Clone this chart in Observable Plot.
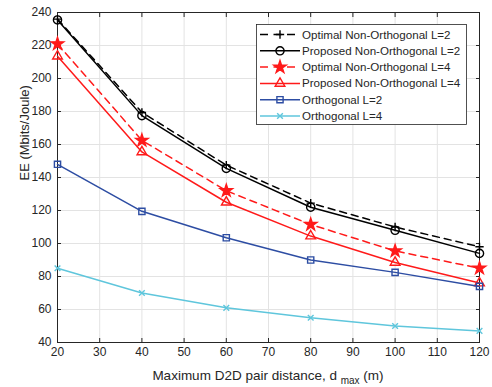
<!DOCTYPE html>
<html>
<head>
<meta charset="utf-8">
<script src="https://cdn.jsdelivr.net/npm/d3@7"></script>
<script src="https://cdn.jsdelivr.net/npm/@observablehq/plot@0.6"></script>
<style>
  html, body { margin: 0; padding: 0; background: white; }
  #chart { width: 492px; height: 387px; }
</style>
</head>
<body>
<div id="chart"></div>
<script>
// ---- data ----
const distances = [20, 40, 60, 80, 100, 120];
const seriesNames = [
  "Optimal Non-Orthogonal L=2",
  "Proposed Non-Orthogonal L=2",
  "Optimal Non-Orthogonal L=4",
  "Proposed Non-Orthogonal L=4",
  "Orthogonal L=2",
  "Orthogonal L=4"
];
const optimalL2  = [236, 179.5, 147.5, 124.5, 110, 98];
const proposedL2 = [235.5, 177.5, 145.5, 122, 108, 94];
const optimalL4  = [221, 162.5, 132, 111.5, 95.5, 85];
const proposedL4 = [213.5, 155.5, 125, 104.5, 88.5, 76];
const orthL2     = [148, 119.5, 103.5, 90, 82.5, 74];
const orthL4     = [85, 70, 61, 55, 50, 47];
const seriesValues = [optimalL2, proposedL2, optimalL4, proposedL4, orthL2, orthL4];
const xTicks = [20, 30, 40, 50, 60, 70, 80, 90, 100, 110, 120];
const yTicks = [40, 60, 80, 100, 120, 140, 160, 180, 200, 220, 240];
const yLabel = "EE (Mbits/Joule)";
const xLabelMain = "Maximum D2D pair distance, d";
const xLabelSub = "max";
const xLabelEnd = "(m)";

// ---- styles ----
const colors  = ["#000000", "#000000", "#ff1a1a", "#ff1a1a", "#2d4da3", "#5fc6dc"];
const dashes  = ["7,5", null, "7,5", null, null, null];
const symbols = ["plus", "circle", "star", "triangle", "square", "times"];
const fills   = ["none", "none", "#ff1a1a", "none", "none", "none"];
const radii   = [2.8, 4.1, 3.9, 3.6, 3.5, 2.7];

const table = [];
seriesNames.forEach((name, i) => {
  seriesValues[i].forEach((v, j) => table.push({series: i, name, x: distances[j], y: v}));
});

const marks = [
  Plot.gridX(xTicks, {stroke: "#e3e3e3", strokeOpacity: 1}),
  Plot.gridY(yTicks, {stroke: "#e3e3e3", strokeOpacity: 1}),
  Plot.axisX({ticks: xTicks, tickSize: -4, tickPadding: 9, label: null, stroke: "#262626", fill: "#262626"}),
  Plot.axisX({anchor: "top", ticks: xTicks, tickSize: -4, tickFormat: () => "", label: null, stroke: "#262626"}),
  Plot.axisY({ticks: yTicks, tickSize: -4, tickPadding: 10, label: null, stroke: "#262626", fill: "#262626"}),
  Plot.axisY({anchor: "right", ticks: yTicks, tickSize: -4, tickFormat: () => "", label: null, stroke: "#262626"}),
  Plot.frame({stroke: "#262626", strokeWidth: 1})
];
seriesNames.forEach((name, i) => {
  const d = table.filter(r => r.series === i);
  marks.push(Plot.line(d, {x: "x", y: "y", stroke: colors[i], strokeWidth: 1.5, strokeDasharray: dashes[i] || undefined}));
  marks.push(Plot.dot(d, {x: "x", y: "y", symbol: () => symbols[i], r: radii[i], stroke: colors[i], fill: fills[i], strokeWidth: 1.4}));
});
marks.push(Plot.text([yLabel], {frameAnchor: "left", dx: -33, dy: 3, rotate: -90, fontSize: 13, fill: "#262626", text: d => d}));

const chart = Plot.plot({
  width: 492,
  height: 387,
  marginLeft: 57,
  marginRight: 13,
  marginTop: 12,
  marginBottom: 45,
  x: {domain: [20, 120]},
  y: {domain: [40, 240]},
  style: {fontFamily: "'Liberation Sans', Arial, sans-serif", fontSize: "12px", color: "#262626", background: "white"},
  marks
});
document.getElementById("chart").appendChild(chart);

// ---- x label with subscript ----
const svg = d3.select(chart);
const xl = svg.append("text")
  .attr("x", 268).attr("y", 380)
  .attr("text-anchor", "middle")
  .attr("font-size", 13.5)
  .attr("fill", "#262626")
  .attr("font-family", "'Liberation Sans', Arial, sans-serif");
xl.append("tspan").text(xLabelMain + " ");
xl.append("tspan").attr("dy", 3.5).attr("font-size", 10).text(xLabelSub);
xl.append("tspan").attr("dy", -3.5).text(" " + xLabelEnd);

// ---- legend ----
const lg = svg.append("g").attr("font-family", "'Liberation Sans', Arial, sans-serif").attr("font-size", 11.6).attr("text-anchor", "start");
lg.append("rect").attr("x", 256.5).attr("y", 24.5).attr("width", 210).attr("height", 100)
  .attr("fill", "#ffffff").attr("stroke", "#262626").attr("stroke-width", 0.8);
const symMap = {plus: d3.symbolPlus, circle: d3.symbolCircle, star: d3.symbolStar, triangle: d3.symbolTriangle, square: d3.symbolSquare, times: d3.symbolTimes};
seriesNames.forEach((name, i) => {
  const y = 34.5 + 16.3 * i;
  lg.append("line").attr("x1", 260).attr("x2", 300).attr("y1", y).attr("y2", y)
    .attr("stroke", colors[i]).attr("stroke-width", 1.5)
    .attr("stroke-dasharray", dashes[i] ? "8,5.5" : null);
  lg.append("path").attr("transform", `translate(280,${y})`)
    .attr("d", d3.symbol(symMap[symbols[i]], Math.PI * radii[i] * radii[i])())
    .attr("stroke", colors[i]).attr("fill", fills[i]).attr("stroke-width", 1.4);
  lg.append("text").attr("x", 302).attr("y", y).attr("dy", "0.35em").attr("fill", "#262626").attr("text-anchor", "start").text(name);
});
</script>
</body>
</html>
